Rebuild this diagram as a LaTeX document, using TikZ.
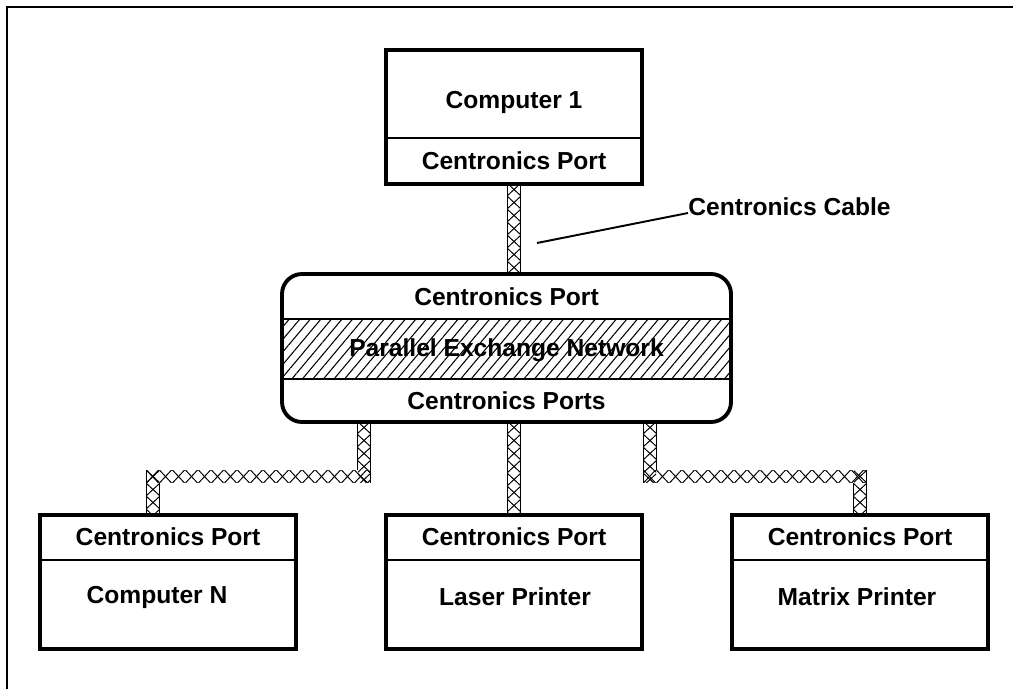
\documentclass[tikz,border=0pt]{standalone}
\usepackage{fontspec}
\setmainfont{Liberation Sans}
\usetikzlibrary{patterns.meta,calc,backgrounds}

\tikzset{
  unit/.style={draw, line width=2.2pt, fill=white, minimum width=256*0.02cm, minimum height=134*0.02cm, inner sep=0pt},
  hub/.style={unit, rounded corners=0.4cm, minimum width=449*0.02cm, minimum height=148*0.02cm},
  txt/.style={font=\bfseries\fontsize{14}{16}\selectfont, inner sep=1pt},
  sep/.style={line width=0.8pt},
  frame/.style={line width=1.4pt},
  cable/.style={double, line width=0.55pt, double distance=6.84pt},
  wire/.style={line width=0.55pt},
  stripes/.style={pattern={Lines[angle=50,distance=4.6pt,line width=0.6pt]}},
}

% braid of a vertical piece: clip corners, centre x, first y
\newcommand{\braidv}[4]{%
  \begin{scope}
    \clip #1 rectangle #2;
    \foreach \k in {0,...,8}
      \draw[wire] (#3-7,#4+13*\k) -- (#3+7,#4+13*\k+13) (#3+7,#4+13*\k) -- (#3-7,#4+13*\k+13);
  \end{scope}}
% braid of a horizontal piece: clip corners, centre y, first x
\newcommand{\braidh}[4]{%
  \begin{scope}
    \clip #1 rectangle #2;
    \foreach \k in {0,...,17}
      \draw[wire] (#4+13*\k,#3-7) -- (#4+13*\k+13,#3+7) (#4+13*\k,#3+7) -- (#4+13*\k+13,#3-7);
  \end{scope}}

\begin{document}
\begin{tikzpicture}[x=0.02cm,y=-0.02cm]
\useasboundingbox (0,0) rectangle (1013,689);
% outer frame
\draw[frame] (1013,7) -- (7,7) -- (7,689);

% Computer 1
\node[unit] (pc1) at (514,117) {};
\draw[sep] (pc1.west |- 0,138) -- (pc1.east |- 0,138);
\node[txt] (pc1name) at (514,102) {Computer 1};
\node[txt] (pc1port) at (514,161) {Centronics Port};

% Parallel Exchange Network
\node[hub] (pen) at (506.5,348) {};
\fill[stripes] (284,319) rectangle (729,379);
\draw[sep] (pen.west |- 0,319) -- (pen.east |- 0,319);
\draw[sep] (pen.west |- 0,379) -- (pen.east |- 0,379);
\node[txt] (penin) at (506.5,297) {Centronics Port};
\node[txt] (penname) at (506.5,350) {Parallel Exchange Network};
\node[txt] (penout) at (506.5,401) {Centronics Ports};

% devices
\node[unit] (pcn) at (168,582) {};
\node[unit] (lpr) at (514,582) {};
\node[unit] (mpr) at (860,582) {};
\foreach \d in {pcn,lpr,mpr}
  \draw[sep] (\d.west |- 0,560) -- (\d.east |- 0,560);
\node[txt] (pcnport) at (168,537) {Centronics Port};
\node[txt] (lprport) at (514,537) {Centronics Port};
\node[txt] (mprport) at (860,537) {Centronics Port};
\node[txt] (pcnname) at (157,597) {Computer N};
\node[txt] (lprname) at (515,597) {Laser Printer};
\node[txt] (mprname) at (857,597) {Matrix Printer};

% cables
\coordinate (t0) at (pc1.south);
\coordinate (t1) at (pc1.south |- pen.north);
\coordinate (a1) at (364,476.5);
\coordinate (a2) at (153,476.5);
\coordinate (l0) at (pen.south -| a1);
\coordinate (l3) at (pcn.north -| a2);
\coordinate (m0) at (pen.south -| lpr.north);
\coordinate (m1) at (lpr.north);
\coordinate (b1) at (650,476.5);
\coordinate (b2) at (860,476.5);
\coordinate (r0) at (pen.south -| b1);
\coordinate (r3) at (mpr.north -| b2);
\begin{scope}[on background layer]
  \draw[cable] (t0) -- (t1);
  \draw[cable] (l0) -- (a1) -- (a2) -- (l3);
  \draw[cable] (m0) -- (m1);
  \draw[cable] (r0) -- (b1) -- (b2) -- (r3);
  \braidv{($(t0)+(-6,-2)$)}{($(t1)+(6,2)$)}{514}{183}
  \braidv{($(l0)+(-6,-2)$)}{($(a1)+(6,6)$)}{364}{421}
  \braidh{($(a2)+(-6,-6)$)}{($(a1)+(6,6)$)}{476.5}{146}
  \braidv{($(a2)+(-6,-6)$)}{($(l3)+(6,2)$)}{153}{470}
  \braidv{($(m0)+(-6,-2)$)}{($(m1)+(6,2)$)}{514}{421}
  \braidv{($(r0)+(-6,-2)$)}{($(b1)+(6,6)$)}{650}{421}
  \braidh{($(b1)+(-6,-6)$)}{($(b2)+(6,6)$)}{476.5}{643}
  \braidv{($(b2)+(-6,-6)$)}{($(r3)+(6,2)$)}{860}{470}
\end{scope}

% label of the cable
\node[txt, anchor=base west, inner sep=0pt] (cablelbl) at (688,215) {Centronics Cable};
\coordinate (tip) at (537,243);
\draw[line width=1.1pt] (tip) -- ($(cablelbl.base west)+(0,-2)$);
\end{tikzpicture}
\end{document}
